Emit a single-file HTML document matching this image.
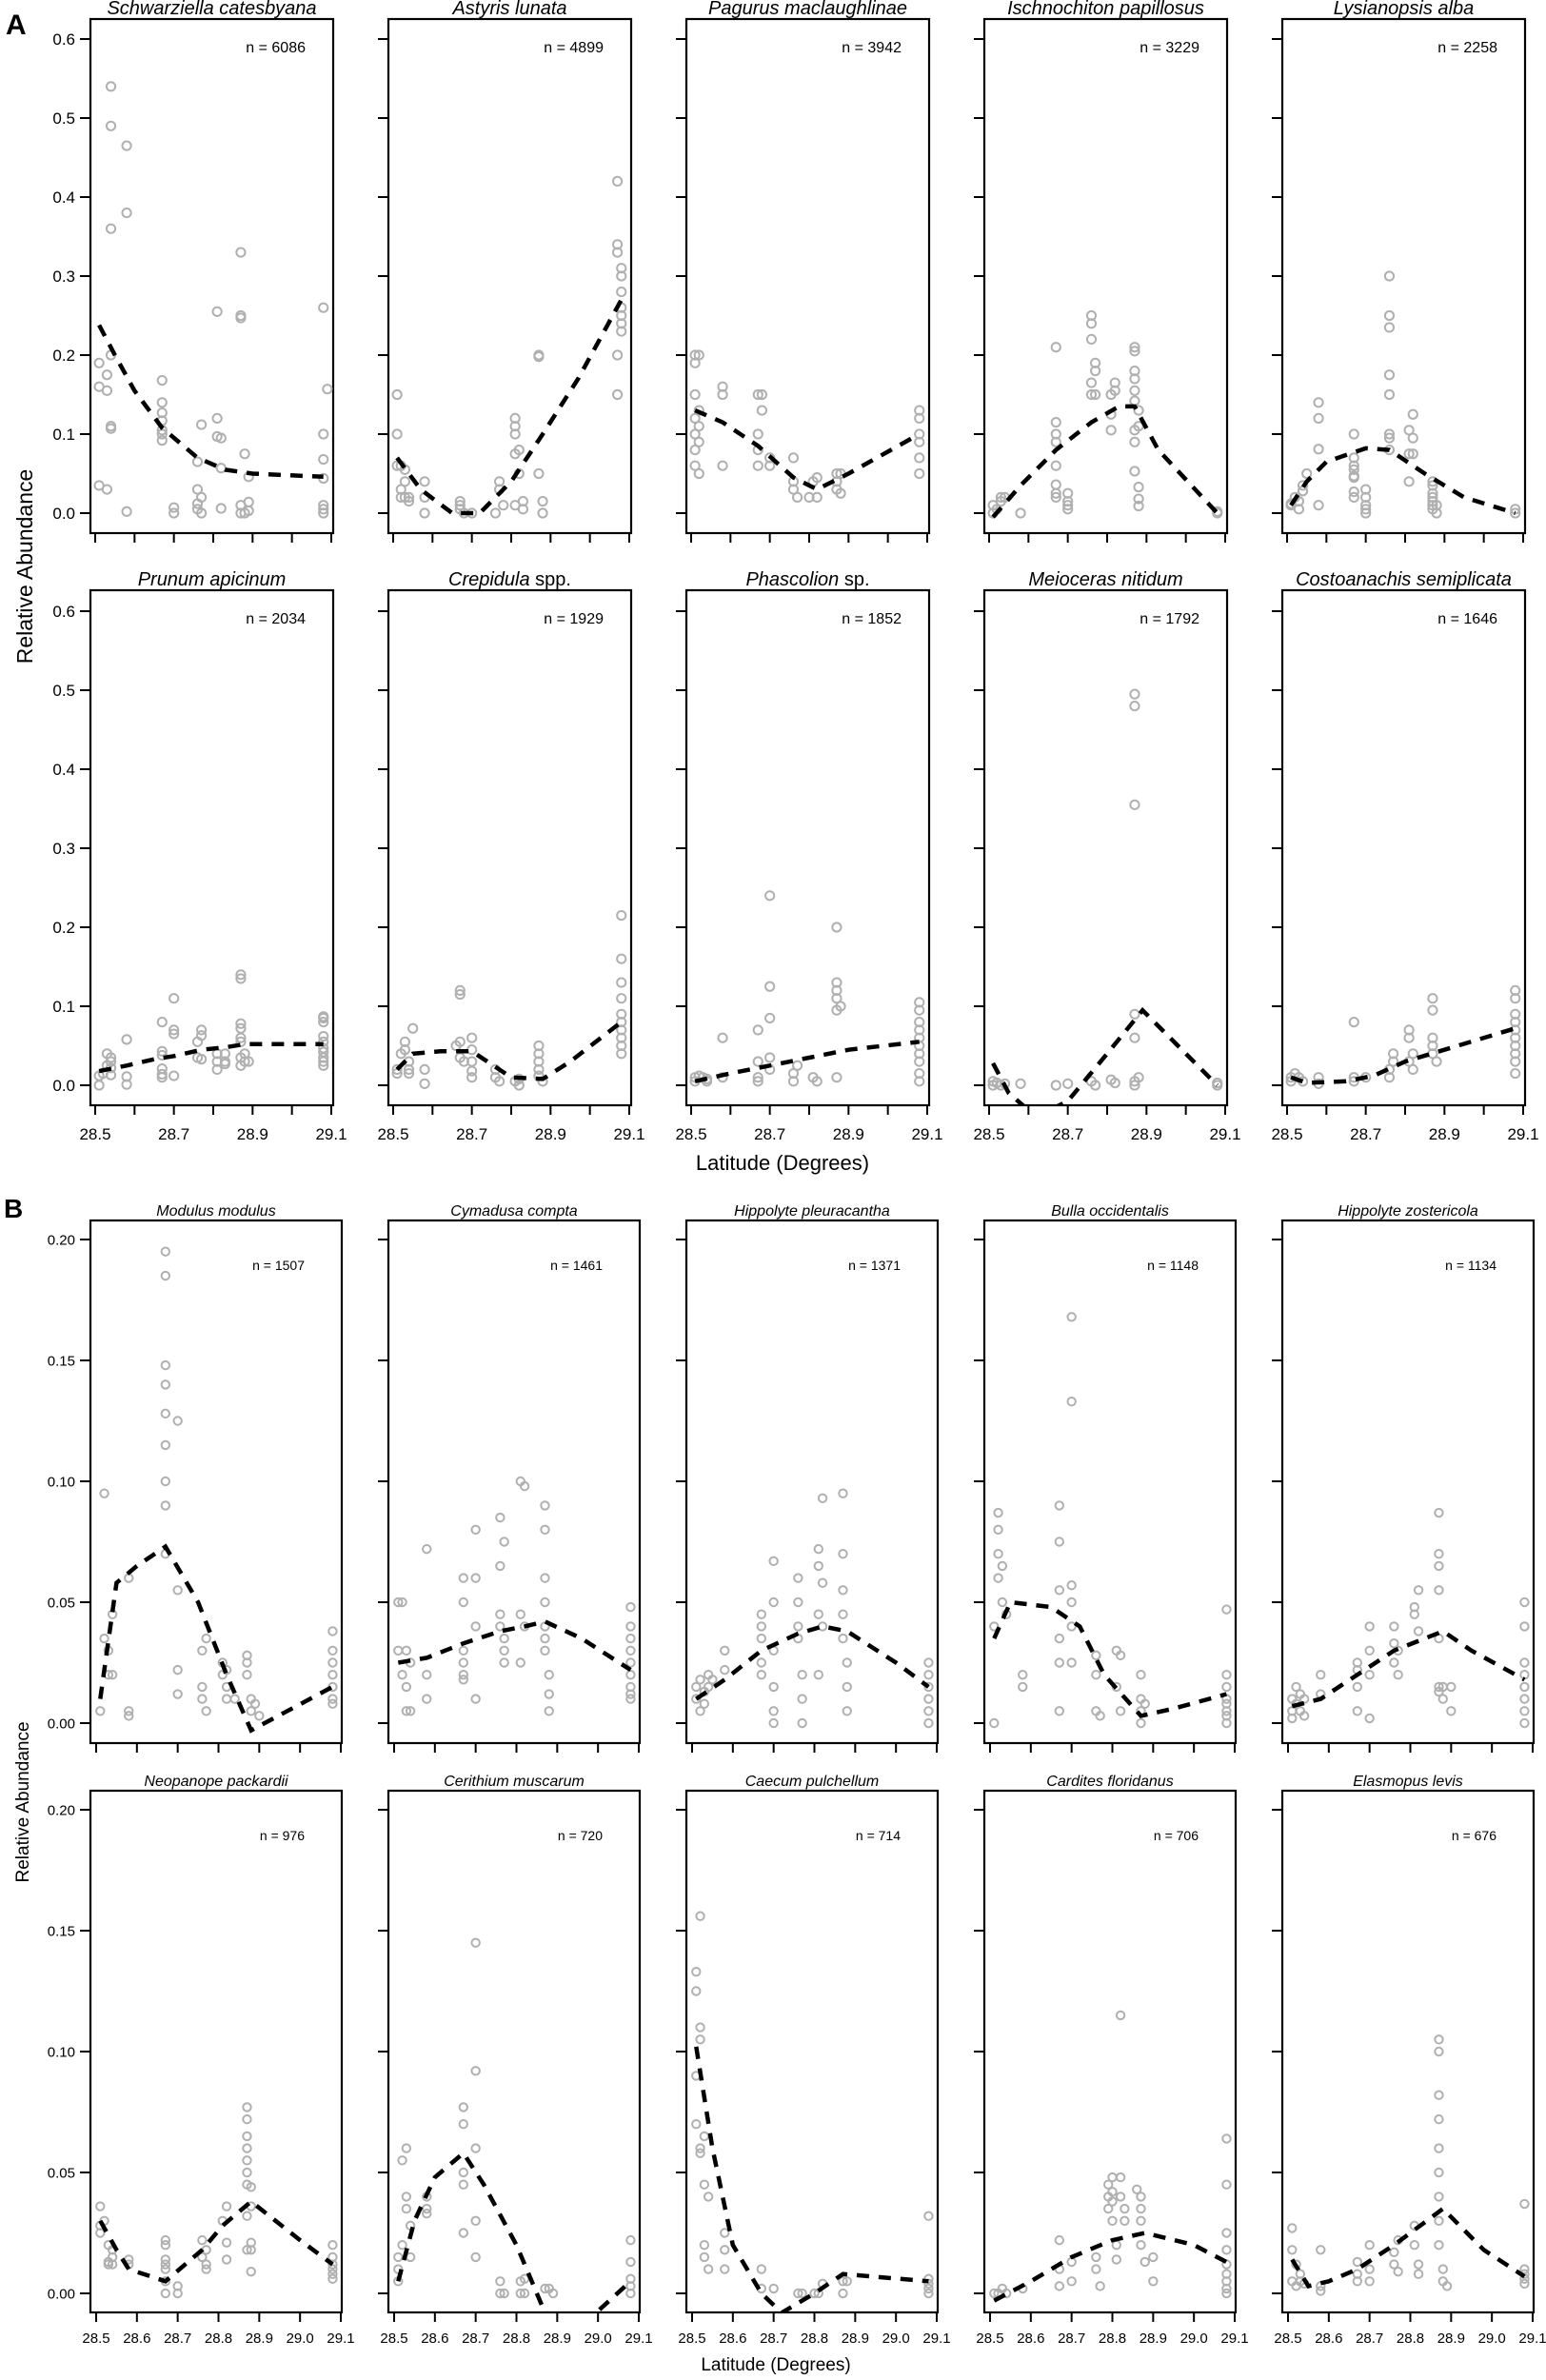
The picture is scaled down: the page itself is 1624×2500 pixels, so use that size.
<!DOCTYPE html>
<html><head><meta charset="utf-8">
<style>
html,body{margin:0;padding:0;background:#fff;}
svg{display:block;font-family:"Liberation Sans",Arial,sans-serif;}
</style></head>
<body>
<svg id="fig" width="1624" height="2500" viewBox="0 0 1624 2500" xmlns="http://www.w3.org/2000/svg"></svg>
<script>
// ---------- DATA ----------
const speciesA = ["Schwarziella catesbyana","Astyris lunata","Pagurus maclaughlinae","Ischnochiton papillosus","Lysianopsis alba","Prunum apicinum","Crepidula|spp.","Phascolion|sp.","Meioceras nitidum","Costoanachis semiplicata"];
const countsA = [6086,4899,3942,3229,2258,2034,1929,1852,1792,1646];
const speciesB = ["Modulus modulus","Cymadusa compta","Hippolyte pleuracantha","Bulla occidentalis","Hippolyte zostericola","Neopanope packardii","Cerithium muscarum","Caecum pulchellum","Cardites floridanus","Elasmopus levis"];
const countsB = [1507,1461,1371,1148,1134,976,720,714,706,676];
const yTicksA = [0,0.1,0.2,0.3,0.4,0.5,0.6];
const yTickLabelsA = ["0.0","0.1","0.2","0.3","0.4","0.5","0.6"];
const yTicksB = [0,0.05,0.10,0.15,0.20];
const yTickLabelsB = ["0.00","0.05","0.10","0.15","0.20"];
const xTicks = [28.5,28.6,28.7,28.8,28.9,29.0,29.1];
const xTickLabelsA = ["28.5","","28.7","","28.9","","29.1"];
const xTickLabelsB = ["28.5","28.6","28.7","28.8","28.9","29.0","29.1"];

const ptsA1=[[28.51,0.19],[28.51,0.16],[28.51,0.035],[28.53,0.175],[28.53,0.155],[28.53,0.03],[28.54,0.2],[28.54,0.11],[28.54,0.107],[28.54,0.54],[28.54,0.49],[28.54,0.36],[28.58,0.465],[28.58,0.38],[28.58,0.002],[28.67,0.168],[28.67,0.14],[28.67,0.127],[28.67,0.117],[28.67,0.105],[28.67,0.1],[28.67,0.092],[28.7,0.007],[28.7,0.0],[28.76,0.065],[28.76,0.03],[28.76,0.012],[28.76,0.005],[28.77,0.112],[28.77,0.02],[28.77,0.0],[28.81,0.255],[28.81,0.12],[28.81,0.097],[28.82,0.095],[28.82,0.006],[28.82,0.057],[28.87,0.33],[28.87,0.25],[28.87,0.247],[28.87,0.01],[28.87,0.0],[28.88,0.075],[28.88,0.0],[28.89,0.046],[28.89,0.014],[28.89,0.003],[29.08,0.26],[29.08,0.1],[29.08,0.068],[29.08,0.044],[29.08,0.01],[29.08,0.005],[29.08,0.0],[29.09,0.157]];
const fitA1=[[28.51,0.238],[28.55,0.2],[28.6,0.155],[28.67,0.108],[28.76,0.07],[28.83,0.055],[28.9,0.05],[29.08,0.046]];
const ptsA2=[[28.51,0.15],[28.51,0.1],[28.51,0.06],[28.52,0.06],[28.53,0.055],[28.53,0.04],[28.52,0.03],[28.52,0.02],[28.53,0.02],[28.54,0.015],[28.54,0.02],[28.58,0.04],[28.58,0.02],[28.58,0.0],[28.67,0.015],[28.67,0.01],[28.67,0.005],[28.68,0.0],[28.7,0.0],[28.76,0.0],[28.77,0.04],[28.77,0.03],[28.78,0.01],[28.81,0.12],[28.81,0.11],[28.81,0.1],[28.82,0.08],[28.81,0.075],[28.82,0.05],[28.81,0.01],[28.83,0.005],[28.83,0.015],[28.87,0.2],[28.87,0.198],[28.87,0.05],[28.88,0.015],[28.88,0.0],[29.07,0.42],[29.07,0.34],[29.07,0.33],[29.08,0.31],[29.08,0.3],[29.08,0.28],[29.08,0.26],[29.08,0.25],[29.08,0.24],[29.08,0.23],[29.07,0.2],[29.07,0.15]];
const fitA2=[[28.51,0.07],[28.57,0.03],[28.65,0.0],[28.72,0.0],[28.8,0.04],[28.88,0.1],[28.97,0.17],[29.08,0.27]];
const ptsA3=[[28.51,0.2],[28.51,0.19],[28.51,0.15],[28.51,0.12],[28.51,0.1],[28.51,0.08],[28.51,0.06],[28.52,0.2],[28.52,0.13],[28.52,0.11],[28.52,0.09],[28.52,0.05],[28.58,0.16],[28.58,0.15],[28.58,0.06],[28.67,0.15],[28.67,0.1],[28.67,0.08],[28.67,0.06],[28.68,0.15],[28.68,0.13],[28.7,0.07],[28.7,0.06],[28.76,0.07],[28.76,0.04],[28.76,0.03],[28.77,0.02],[28.8,0.02],[28.81,0.04],[28.82,0.045],[28.82,0.02],[28.87,0.05],[28.87,0.04],[28.87,0.03],[28.88,0.025],[28.88,0.05],[29.08,0.13],[29.08,0.12],[29.08,0.1],[29.08,0.09],[29.08,0.07],[29.08,0.05]];
const fitA3=[[28.51,0.13],[28.58,0.115],[28.67,0.085],[28.76,0.045],[28.82,0.03],[28.9,0.05],[29.08,0.1]];
const ptsA4=[[28.51,0.0],[28.51,0.01],[28.52,0.005],[28.53,0.015],[28.53,0.02],[28.54,0.02],[28.58,0.0],[28.67,0.21],[28.67,0.115],[28.67,0.1],[28.67,0.09],[28.67,0.06],[28.67,0.036],[28.67,0.025],[28.67,0.02],[28.7,0.025],[28.7,0.015],[28.7,0.005],[28.7,0.01],[28.76,0.25],[28.76,0.24],[28.76,0.22],[28.77,0.19],[28.77,0.18],[28.76,0.165],[28.76,0.15],[28.77,0.15],[28.81,0.15],[28.81,0.125],[28.81,0.105],[28.82,0.165],[28.82,0.155],[28.87,0.21],[28.87,0.205],[28.87,0.18],[28.87,0.17],[28.87,0.155],[28.87,0.142],[28.88,0.13],[28.88,0.11],[28.87,0.105],[28.87,0.09],[28.87,0.053],[28.88,0.033],[28.88,0.018],[28.88,0.009],[29.08,0.0],[29.08,0.002]];
const fitA4=[[28.51,-0.005],[28.58,0.035],[28.67,0.08],[28.76,0.115],[28.83,0.135],[28.87,0.135],[28.93,0.08],[29.08,0.0]];
const ptsA5=[[28.51,0.01],[28.51,0.012],[28.52,0.02],[28.53,0.005],[28.53,0.015],[28.54,0.028],[28.54,0.035],[28.55,0.05],[28.58,0.14],[28.58,0.12],[28.58,0.01],[28.58,0.081],[28.67,0.1],[28.67,0.07],[28.67,0.06],[28.67,0.055],[28.67,0.047],[28.67,0.045],[28.67,0.027],[28.67,0.02],[28.7,0.03],[28.7,0.02],[28.7,0.01],[28.7,0.005],[28.7,0.0],[28.76,0.3],[28.76,0.25],[28.76,0.235],[28.76,0.175],[28.76,0.15],[28.76,0.1],[28.76,0.095],[28.76,0.08],[28.81,0.105],[28.81,0.04],[28.81,0.075],[28.82,0.125],[28.82,0.095],[28.82,0.075],[28.87,0.04],[28.87,0.035],[28.87,0.025],[28.87,0.02],[28.87,0.015],[28.87,0.01],[28.87,0.005],[28.88,0.01],[28.88,0.0],[29.08,0.0],[29.08,0.005]];
const fitA5=[[28.51,0.01],[28.55,0.04],[28.6,0.065],[28.7,0.082],[28.76,0.08],[28.85,0.05],[28.95,0.02],[29.08,0.0]];
const ptsA6=[[28.51,0.012],[28.51,0.0],[28.52,0.015],[28.53,0.04],[28.53,0.025],[28.54,0.035],[28.54,0.03],[28.54,0.022],[28.54,0.013],[28.58,0.058],[28.58,0.011],[28.58,0.001],[28.67,0.08],[28.67,0.043],[28.67,0.038],[28.67,0.021],[28.67,0.014],[28.67,0.01],[28.7,0.07],[28.7,0.065],[28.7,0.012],[28.7,0.11],[28.76,0.055],[28.77,0.07],[28.77,0.063],[28.76,0.035],[28.77,0.033],[28.81,0.04],[28.81,0.03],[28.81,0.02],[28.83,0.04],[28.83,0.03],[28.83,0.027],[28.87,0.078],[28.87,0.072],[28.87,0.06],[28.87,0.055],[28.87,0.035],[28.87,0.025],[28.88,0.04],[28.88,0.03],[28.89,0.03],[28.87,0.135],[28.87,0.14],[29.08,0.087],[29.08,0.085],[29.08,0.08],[29.08,0.062],[29.08,0.055],[29.08,0.047],[29.08,0.042],[29.08,0.035],[29.08,0.03],[29.08,0.025]];
const fitA6=[[28.51,0.018],[28.58,0.025],[28.65,0.033],[28.7,0.037],[28.77,0.045],[28.83,0.048],[28.88,0.052],[29.08,0.052]];
const ptsA7=[[28.51,0.015],[28.51,0.02],[28.52,0.04],[28.53,0.055],[28.53,0.045],[28.54,0.03],[28.54,0.02],[28.54,0.015],[28.55,0.072],[28.58,0.02],[28.58,0.002],[28.67,0.12],[28.67,0.115],[28.67,0.055],[28.66,0.05],[28.67,0.035],[28.68,0.03],[28.7,0.06],[28.7,0.045],[28.7,0.03],[28.7,0.018],[28.7,0.01],[28.76,0.02],[28.76,0.01],[28.77,0.005],[28.81,0.005],[28.82,0.0],[28.82,0.008],[28.87,0.05],[28.87,0.04],[28.87,0.03],[28.87,0.02],[28.87,0.012],[28.88,0.005],[29.08,0.215],[29.08,0.16],[29.08,0.13],[29.08,0.11],[29.08,0.09],[29.08,0.08],[29.08,0.07],[29.08,0.06],[29.08,0.05],[29.08,0.04]];
const fitA7=[[28.51,0.02],[28.55,0.04],[28.62,0.043],[28.7,0.043],[28.8,0.01],[28.88,0.008],[28.95,0.03],[29.08,0.08]];
const ptsA8=[[28.51,0.01],[28.51,0.005],[28.52,0.012],[28.53,0.01],[28.54,0.008],[28.54,0.005],[28.58,0.06],[28.58,0.01],[28.67,0.07],[28.67,0.03],[28.67,0.01],[28.67,0.005],[28.7,0.24],[28.7,0.125],[28.7,0.085],[28.7,0.035],[28.7,0.02],[28.76,0.015],[28.76,0.005],[28.77,0.025],[28.81,0.01],[28.82,0.005],[28.87,0.2],[28.87,0.13],[28.87,0.12],[28.87,0.11],[28.88,0.1],[28.87,0.095],[28.87,0.01],[29.08,0.105],[29.08,0.095],[29.08,0.08],[29.08,0.07],[29.08,0.06],[29.08,0.05],[29.08,0.04],[29.08,0.03],[29.08,0.015],[29.08,0.005]];
const fitA8=[[28.51,0.005],[28.6,0.015],[28.7,0.025],[28.8,0.035],[28.9,0.045],[29.08,0.055]];
const ptsA9=[[28.51,0.0],[28.51,0.005],[28.52,0.003],[28.53,0.0],[28.54,0.002],[28.58,0.002],[28.67,0.0],[28.7,0.002],[28.76,0.005],[28.77,0.0],[28.81,0.007],[28.82,0.003],[28.87,0.495],[28.87,0.48],[28.87,0.355],[28.87,0.09],[28.87,0.06],[28.88,0.01],[28.87,0.005],[28.87,0.0],[29.08,0.0],[29.08,0.003]];
const fitA9=[[28.51,0.028],[28.55,-0.01],[28.62,-0.04],[28.7,-0.02],[28.8,0.04],[28.89,0.095],[28.98,0.05],[29.08,0.0]];
const ptsA10=[[28.51,0.01],[28.51,0.005],[28.52,0.015],[28.53,0.01],[28.54,0.005],[28.58,0.01],[28.58,0.002],[28.67,0.08],[28.67,0.01],[28.67,0.005],[28.7,0.01],[28.76,0.01],[28.76,0.02],[28.77,0.04],[28.77,0.03],[28.81,0.07],[28.81,0.06],[28.81,0.03],[28.82,0.04],[28.82,0.02],[28.87,0.11],[28.87,0.095],[28.87,0.06],[28.87,0.05],[28.87,0.04],[28.88,0.03],[29.08,0.12],[29.08,0.11],[29.08,0.09],[29.08,0.08],[29.08,0.07],[29.08,0.06],[29.08,0.05],[29.08,0.04],[29.08,0.03],[29.08,0.015]];
const fitA10=[[28.51,0.01],[28.55,0.003],[28.65,0.005],[28.72,0.012],[28.8,0.03],[28.9,0.045],[29.08,0.072]];

const ptsB1=[[28.51,0.005],[28.52,0.095],[28.52,0.035],[28.53,0.03],[28.53,0.02],[28.54,0.045],[28.54,0.02],[28.58,0.06],[28.58,0.003],[28.58,0.005],[28.67,0.195],[28.67,0.185],[28.67,0.148],[28.67,0.14],[28.67,0.128],[28.67,0.115],[28.67,0.1],[28.67,0.09],[28.67,0.07],[28.7,0.125],[28.7,0.055],[28.7,0.022],[28.7,0.012],[28.76,0.03],[28.76,0.015],[28.76,0.01],[28.77,0.035],[28.77,0.005],[28.81,0.025],[28.81,0.02],[28.82,0.022],[28.82,0.01],[28.82,0.015],[28.84,0.01],[28.87,0.028],[28.87,0.025],[28.87,0.02],[28.88,0.01],[28.88,0.005],[28.89,0.008],[28.9,0.003],[29.08,0.038],[29.08,0.03],[29.08,0.025],[29.08,0.02],[29.08,0.015],[29.08,0.01],[29.08,0.008]];
const fitB1=[[28.51,0.01],[28.55,0.058],[28.6,0.065],[28.67,0.073],[28.75,0.05],[28.82,0.02],[28.88,-0.003],[29.08,0.015]];
const ptsB2=[[28.51,0.05],[28.51,0.03],[28.52,0.05],[28.52,0.02],[28.53,0.03],[28.53,0.015],[28.53,0.005],[28.54,0.005],[28.54,0.025],[28.58,0.072],[28.58,0.01],[28.58,0.02],[28.67,0.06],[28.67,0.05],[28.67,0.03],[28.67,0.02],[28.67,0.018],[28.67,0.025],[28.7,0.08],[28.7,0.06],[28.7,0.04],[28.7,0.01],[28.76,0.085],[28.76,0.065],[28.76,0.045],[28.76,0.04],[28.77,0.035],[28.77,0.03],[28.77,0.025],[28.77,0.075],[28.81,0.1],[28.81,0.045],[28.81,0.025],[28.82,0.098],[28.82,0.04],[28.87,0.09],[28.87,0.08],[28.87,0.06],[28.87,0.05],[28.87,0.04],[28.87,0.035],[28.87,0.03],[28.88,0.02],[28.88,0.012],[28.88,0.005],[29.08,0.048],[29.08,0.04],[29.08,0.035],[29.08,0.03],[29.08,0.025],[29.08,0.02],[29.08,0.015],[29.08,0.012],[29.08,0.01]];
const fitB2=[[28.51,0.025],[28.58,0.027],[28.67,0.033],[28.76,0.038],[28.82,0.04],[28.87,0.042],[28.96,0.035],[29.08,0.022]];
const ptsB3=[[28.51,0.015],[28.51,0.01],[28.52,0.018],[28.52,0.005],[28.53,0.013],[28.53,0.008],[28.54,0.02],[28.54,0.015],[28.55,0.018],[28.58,0.03],[28.58,0.022],[28.67,0.045],[28.67,0.04],[28.67,0.035],[28.67,0.025],[28.67,0.02],[28.7,0.067],[28.7,0.05],[28.7,0.03],[28.7,0.015],[28.7,0.005],[28.7,0.0],[28.76,0.06],[28.76,0.05],[28.76,0.04],[28.76,0.035],[28.77,0.02],[28.77,0.01],[28.77,0.0],[28.81,0.072],[28.81,0.065],[28.81,0.045],[28.81,0.02],[28.82,0.093],[28.82,0.058],[28.82,0.04],[28.87,0.095],[28.87,0.07],[28.87,0.055],[28.87,0.045],[28.87,0.035],[28.88,0.025],[28.88,0.015],[28.88,0.005],[29.08,0.025],[29.08,0.02],[29.08,0.015],[29.08,0.01],[29.08,0.005],[29.08,0.0]];
const fitB3=[[28.51,0.01],[28.58,0.018],[28.67,0.03],[28.76,0.037],[28.82,0.04],[28.88,0.038],[29.0,0.025],[29.08,0.015]];
const ptsB4=[[28.51,0.0],[28.51,0.04],[28.52,0.087],[28.52,0.08],[28.52,0.07],[28.52,0.06],[28.53,0.05],[28.53,0.065],[28.54,0.045],[28.58,0.02],[28.58,0.015],[28.67,0.09],[28.67,0.075],[28.67,0.055],[28.67,0.035],[28.67,0.025],[28.67,0.005],[28.7,0.168],[28.7,0.133],[28.7,0.057],[28.7,0.05],[28.7,0.04],[28.7,0.025],[28.76,0.028],[28.76,0.02],[28.76,0.005],[28.77,0.003],[28.81,0.03],[28.81,0.015],[28.82,0.028],[28.82,0.005],[28.87,0.02],[28.87,0.01],[28.87,0.005],[28.87,0.0],[28.88,0.008],[29.08,0.047],[29.08,0.02],[29.08,0.015],[29.08,0.01],[29.08,0.008],[29.08,0.005],[29.08,0.003],[29.08,0.0]];
const fitB4=[[28.51,0.035],[28.55,0.05],[28.65,0.048],[28.72,0.04],[28.78,0.02],[28.87,0.003],[28.95,0.006],[29.08,0.012]];
const ptsB5=[[28.51,0.002],[28.51,0.005],[28.51,0.01],[28.52,0.015],[28.52,0.008],[28.53,0.012],[28.53,0.005],[28.54,0.01],[28.54,0.003],[28.58,0.02],[28.58,0.012],[28.67,0.025],[28.67,0.022],[28.67,0.015],[28.67,0.005],[28.7,0.04],[28.7,0.03],[28.7,0.02],[28.7,0.002],[28.76,0.04],[28.76,0.033],[28.76,0.025],[28.77,0.02],[28.77,0.03],[28.81,0.048],[28.81,0.045],[28.82,0.055],[28.82,0.038],[28.87,0.087],[28.87,0.07],[28.87,0.065],[28.87,0.055],[28.87,0.035],[28.87,0.015],[28.87,0.013],[28.88,0.015],[28.88,0.01],[28.9,0.015],[28.9,0.005],[29.08,0.05],[29.08,0.04],[29.08,0.025],[29.08,0.02],[29.08,0.015],[29.08,0.01],[29.08,0.005],[29.08,0.0]];
const fitB5=[[28.51,0.007],[28.58,0.01],[28.67,0.02],[28.76,0.03],[28.88,0.038],[28.95,0.03],[29.08,0.018]];
const ptsB6=[[28.51,0.036],[28.51,0.028],[28.51,0.025],[28.52,0.03],[28.53,0.02],[28.53,0.013],[28.54,0.015],[28.53,0.012],[28.54,0.012],[28.54,0.018],[28.58,0.012],[28.58,0.014],[28.67,0.022],[28.67,0.02],[28.67,0.014],[28.67,0.01],[28.67,0.012],[28.67,0.0],[28.67,0.005],[28.7,0.003],[28.7,0.0],[28.76,0.022],[28.76,0.015],[28.77,0.018],[28.77,0.012],[28.77,0.01],[28.81,0.03],[28.82,0.036],[28.82,0.021],[28.82,0.014],[28.87,0.077],[28.87,0.072],[28.87,0.065],[28.87,0.06],[28.87,0.055],[28.87,0.05],[28.87,0.045],[28.87,0.032],[28.87,0.018],[28.88,0.044],[28.88,0.036],[28.88,0.021],[28.88,0.018],[28.88,0.009],[29.08,0.02],[29.08,0.015],[29.08,0.012],[29.08,0.01],[29.08,0.008],[29.08,0.006]];
const fitB6=[[28.51,0.03],[28.55,0.018],[28.58,0.01],[28.67,0.005],[28.76,0.018],[28.81,0.028],[28.88,0.038],[29.0,0.022],[29.08,0.012]];
const ptsB7=[[28.51,0.005],[28.51,0.01],[28.51,0.015],[28.52,0.02],[28.52,0.055],[28.53,0.06],[28.53,0.035],[28.53,0.04],[28.54,0.028],[28.54,0.015],[28.58,0.04],[28.58,0.035],[28.58,0.033],[28.67,0.077],[28.67,0.07],[28.67,0.05],[28.67,0.045],[28.67,0.025],[28.7,0.145],[28.7,0.092],[28.7,0.06],[28.7,0.03],[28.7,0.015],[28.76,0.005],[28.76,0.0],[28.77,0.0],[28.81,0.005],[28.81,0.0],[28.82,0.006],[28.82,0.0],[28.87,0.002],[28.88,0.002],[28.89,0.0],[29.08,0.022],[29.08,0.013],[29.08,0.006],[29.08,0.003],[29.08,0.0]];
const fitB7=[[28.51,0.005],[28.55,0.03],[28.6,0.048],[28.67,0.058],[28.72,0.045],[28.8,0.02],[28.87,-0.008],[28.95,-0.015],[29.08,0.005]];
const ptsB8=[[28.51,0.133],[28.51,0.125],[28.51,0.09],[28.51,0.07],[28.52,0.156],[28.52,0.11],[28.52,0.105],[28.52,0.06],[28.52,0.058],[28.53,0.065],[28.53,0.045],[28.53,0.02],[28.53,0.015],[28.54,0.04],[28.54,0.01],[28.58,0.018],[28.58,0.01],[28.58,0.025],[28.67,0.01],[28.67,0.002],[28.7,0.002],[28.76,0.0],[28.77,0.0],[28.8,0.0],[28.81,0.0],[28.82,0.004],[28.87,0.005],[28.87,0.0],[28.88,0.005],[29.08,0.032],[29.08,0.006],[29.08,0.004],[29.08,0.002],[29.08,0.0]];
const fitB8=[[28.51,0.102],[28.55,0.06],[28.6,0.02],[28.67,0.0],[28.72,-0.008],[28.8,0.0],[28.87,0.008],[29.08,0.005]];
const ptsB9=[[28.51,0.0],[28.52,0.0],[28.53,0.002],[28.54,0.0],[28.58,0.002],[28.67,0.022],[28.67,0.01],[28.67,0.003],[28.7,0.013],[28.7,0.005],[28.76,0.015],[28.76,0.01],[28.77,0.003],[28.79,0.035],[28.79,0.04],[28.79,0.045],[28.8,0.048],[28.8,0.038],[28.8,0.042],[28.8,0.03],[28.81,0.02],[28.81,0.014],[28.82,0.115],[28.82,0.048],[28.82,0.04],[28.83,0.035],[28.83,0.03],[28.86,0.043],[28.87,0.04],[28.87,0.035],[28.87,0.03],[28.87,0.02],[28.88,0.013],[28.9,0.015],[28.9,0.005],[29.08,0.064],[29.08,0.045],[29.08,0.025],[29.08,0.018],[29.08,0.012],[29.08,0.008],[29.08,0.005],[29.08,0.002],[29.08,0.0]];
const fitB9=[[28.51,-0.003],[28.6,0.005],[28.7,0.015],[28.8,0.022],[28.88,0.025],[29.0,0.02],[29.08,0.013]];
const ptsB10=[[28.51,0.027],[28.51,0.018],[28.51,0.005],[28.52,0.012],[28.52,0.003],[28.53,0.008],[28.53,0.005],[28.54,0.004],[28.58,0.018],[28.58,0.003],[28.58,0.001],[28.67,0.013],[28.67,0.008],[28.67,0.005],[28.7,0.02],[28.7,0.01],[28.7,0.005],[28.76,0.017],[28.76,0.012],[28.77,0.009],[28.77,0.022],[28.81,0.028],[28.81,0.02],[28.82,0.012],[28.82,0.008],[28.87,0.105],[28.87,0.1],[28.87,0.082],[28.87,0.072],[28.87,0.06],[28.87,0.05],[28.87,0.04],[28.87,0.03],[28.87,0.02],[28.88,0.01],[28.88,0.005],[28.89,0.003],[29.08,0.037],[29.08,0.01],[29.08,0.008],[29.08,0.006],[29.08,0.004]];
const fitB10=[[28.51,0.014],[28.55,0.003],[28.6,0.005],[28.67,0.01],[28.76,0.02],[28.88,0.035],[28.98,0.018],[29.08,0.007]];

const pointsA=[ptsA1,ptsA2,ptsA3,ptsA4,ptsA5,ptsA6,ptsA7,ptsA8,ptsA9,ptsA10];
const fitsA=[fitA1,fitA2,fitA3,fitA4,fitA5,fitA6,fitA7,fitA8,fitA9,fitA10];
const pointsB=[ptsB1,ptsB2,ptsB3,ptsB4,ptsB5,ptsB6,ptsB7,ptsB8,ptsB9,ptsB10];
const fitsB=[fitB1,fitB2,fitB3,fitB4,fitB5,fitB6,fitB7,fitB8,fitB9,fitB10];

// ---------- DRAWING ----------
const NS="http://www.w3.org/2000/svg";
const svg=document.getElementById('fig');
function mk(tag,attrs,parent){const e=document.createElementNS(NS,tag);for(const k in attrs)e.setAttribute(k,attrs[k]);(parent||svg).appendChild(e);return e;}
let clipId=0;

function drawSection(cfg){
  for(let i=0;i<10;i++){
    const row=Math.floor(i/5), col=i%5;
    const left=95+col*313, top=cfg.tops[row], bottom=cfg.bottoms[row], zeroY=cfg.zeros[row];
    const w=cfg.width;
    const xS=v=>left+cfg.x0+(v-28.5)/0.6*(cfg.x1-cfg.x0);
    const yS=v=>zeroY-v*cfg.ppu;
    const g=mk('g',{});
    
    
    // title
    const parts=cfg.names[i].split('|');
    const t=mk('text',{x:left+w/2,y:top-5,'text-anchor':'middle','font-size':cfg.titleSize},g);
    
    
    const s1=mk('tspan',{'font-style':'italic'},t);s1.textContent=parts[0];
    if(parts[1]){const s2=mk('tspan',{},t);s2.textContent=' '+parts[1];}
    // box
    const box=mk('rect',{x:left,y:top,width:w,height:bottom-top,fill:'none',stroke:'#000','stroke-width':2.2},g);
    
    
    // n label
    const n=mk('text',{x:left+cfg.nX,y:top+cfg.nY,'text-anchor':'end','font-size':cfg.nSize},g);
    
    
    n.textContent='n =  '+cfg.counts[i];
    // y ticks
    cfg.yTicks.forEach((v,k)=>{
      const y=yS(v);
      const tk=mk('line',{x1:left-11,x2:left,y1:y,y2:y,stroke:'#000','stroke-width':2},g);
      
      
      if(col===0){
        const lb=mk('text',{x:left-16,y:y+cfg.tickSize*0.36,'text-anchor':'end','font-size':cfg.tickSize},g);
        
        
        lb.textContent=cfg.yLabels[k];
      }
    });
    // x ticks
    xTicks.forEach((v,k)=>{
      const x=xS(v);
      const tk=mk('line',{x1:x,x2:x,y1:bottom,y2:bottom+10,stroke:'#000','stroke-width':2},g);
      
      
      if(row===1 && cfg.xLabels[k]){
        const lb=mk('text',{x:x,y:bottom+cfg.xLabelDy,'text-anchor':'middle','font-size':cfg.tickSize},g);
        
        
        lb.textContent=cfg.xLabels[k];
      }
    });
    // clip
    const cid='clip'+(clipId++);
    const cp=mk('clipPath',{id:cid},g);
    mk('rect',{x:left,y:top,width:w,height:bottom-top},cp);
    const inner=mk('g',{'clip-path':'url(#'+cid+')'},g);
    cfg.points[i].forEach(p=>{
      const c=mk('circle',{cx:xS(p[0]),cy:yS(p[1]),r:cfg.r,fill:'none',stroke:'#b0b0b0','stroke-width':2},inner);
      
      
    });
    const d=cfg.fits[i].map((p,k)=>(k?'L':'M')+xS(p[0]).toFixed(1)+' '+yS(p[1]).toFixed(1)).join(' ');
    const ln=mk('path',{d:d,fill:'none',stroke:'#000','stroke-width':4.5,'stroke-dasharray':'13 10'},inner);
    
    
  }
}

drawSection({key:'a',names:speciesA,counts:countsA,points:pointsA,fits:fitsA,
  tops:[20,620],bottoms:[560,1161],zeros:[539,1140],ppu:830,width:255,x0:5,x1:253,
  yTicks:yTicksA,yLabels:yTickLabelsA,xLabels:xTickLabelsA,titleSize:20,nSize:16,nX:226,nY:35,
  tickSize:17,xLabelDy:36,r:4.6});
drawSection({key:'b',names:speciesB,counts:countsB,points:pointsB,fits:fitsB,
  tops:[1282,1881],bottoms:[1831,2429],zeros:[1810,2409],ppu:2540,width:264,x0:6,x1:263,
  yTicks:yTicksB,yLabels:yTickLabelsB,xLabels:xTickLabelsB,titleSize:16,nSize:14,nX:225,nY:52,
  tickSize:15,xLabelDy:32,r:4.2});

function label(txt,attrs,name){const t=mk('text',attrs);t.textContent=txt;return t;}
label('A',{x:6,y:36,'font-size':30,'font-weight':'bold'},'panel-label-a');
label('B',{x:4,y:1279,'font-size':28,'font-weight':'bold'},'panel-label-b');
label('Relative Abundance',{x:0,y:0,'font-size':23,'text-anchor':'middle',transform:'translate(34,595) rotate(-90)'},'y-axis-title-a');
label('Relative Abundance',{x:0,y:0,'font-size':19,'text-anchor':'middle',transform:'translate(30,1893) rotate(-90)'},'y-axis-title-b');
label('Latitude (Degrees)',{x:822,y:1229,'font-size':22,'text-anchor':'middle'},'x-axis-title-a');
label('Latitude (Degrees)',{x:815,y:2490,'font-size':19,'text-anchor':'middle'},'x-axis-title-b');
</script>
</body></html>
